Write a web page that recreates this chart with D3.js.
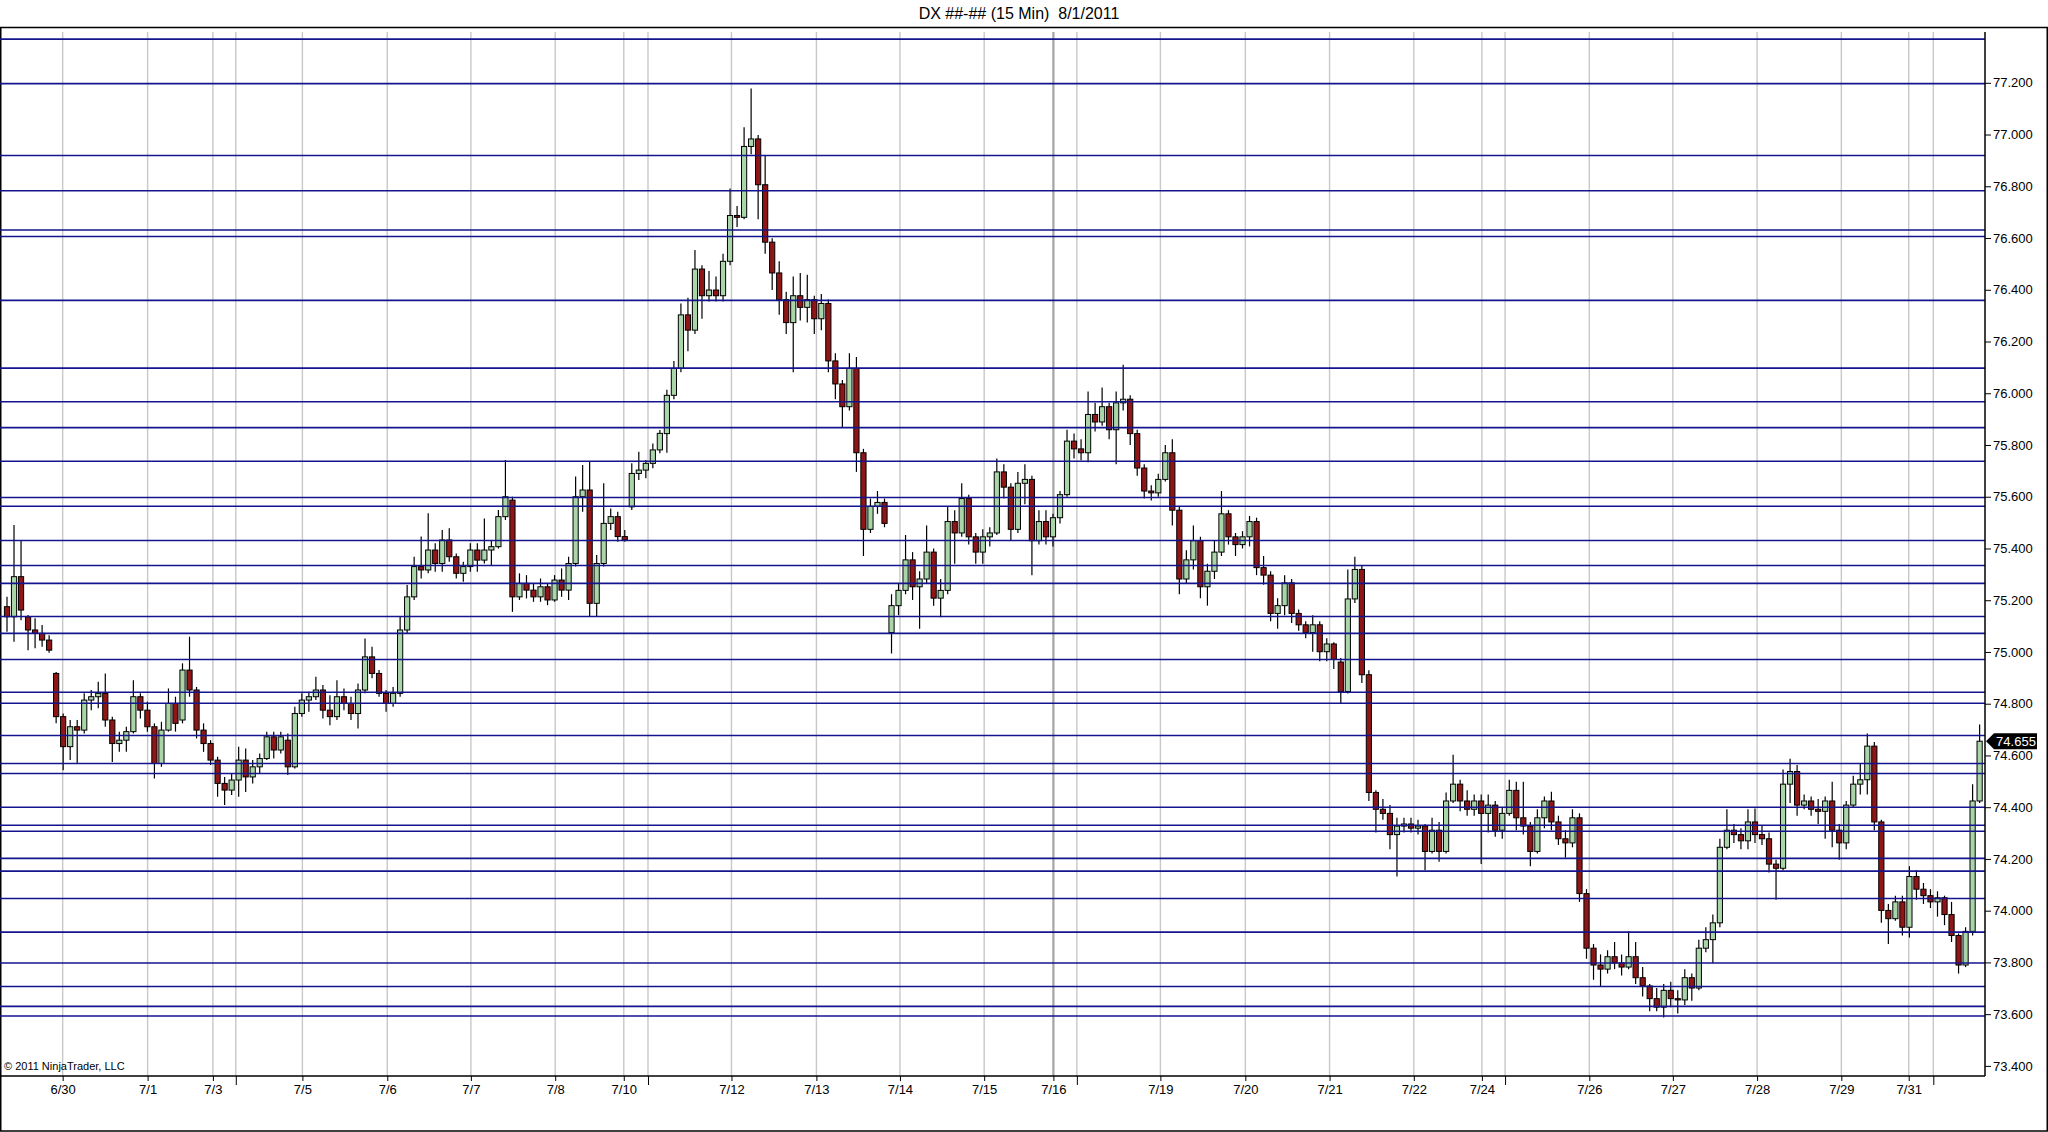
<!DOCTYPE html>
<html><head><meta charset="utf-8">
<script src="https://cdn.jsdelivr.net/npm/d3@7/dist/d3.min.js"></script>
<style>
html,body{margin:0;padding:0;background:#fff;}
svg{display:block;}
text{font-family:Arial,"Liberation Sans",Helvetica,sans-serif;}
</style>
</head><body>
<svg id="chart" width="2048" height="1132"></svg>
<script>
// ---- DATA (2-hour candles) ----
const opens = [
75.175,75.136,75.291,75.136,75.085,75.072,75.046,74.917,74.750,74.634,
74.711,74.698,74.814,74.827,74.840,74.737,74.646,74.659,74.692,74.827,
74.775,74.711,74.569,74.698,74.801,74.737,74.930,74.853,74.698,74.646,
74.582,74.492,74.466,74.505,74.582,74.517,74.556,74.588,74.672,74.621,
74.659,74.556,74.762,74.814,74.827,74.853,74.775,74.750,74.827,74.801,
74.762,74.853,74.981,74.917,74.840,74.801,74.840,75.085,75.213,75.330,
75.317,75.394,75.342,75.433,75.368,75.304,75.330,75.394,75.355,75.394,
75.407,75.523,75.587,75.213,75.265,75.239,75.213,75.252,75.201,75.278,
75.239,75.342,75.600,75.626,75.188,75.342,75.497,75.523,75.446,75.561,
75.690,75.703,75.729,75.781,75.844,75.992,76.096,76.303,76.244,76.480,
76.377,76.399,76.377,76.510,76.687,76.680,76.954,76.983,76.806,76.584,
76.465,76.362,76.273,76.377,76.332,76.362,76.288,76.347,76.125,76.036,
75.948,76.096,75.770,75.474,75.563,75.578,75.075,75.179,75.238,75.356,
75.252,75.282,75.386,75.208,75.238,75.504,75.460,75.593,75.445,75.386,
75.445,75.460,75.696,75.637,75.474,75.652,75.667,75.430,75.504,75.445,
75.519,75.608,75.815,75.785,75.770,75.918,75.889,75.948,75.859,75.963,
75.977,75.844,75.711,75.622,75.615,75.667,75.770,75.548,75.282,75.356,
75.430,75.252,75.312,75.386,75.534,75.445,75.415,75.445,75.504,75.326,
75.297,75.149,75.179,75.267,75.149,75.105,75.075,75.105,75.001,75.031,
74.961,74.847,75.205,75.319,74.912,74.457,74.392,74.376,74.294,74.327,
74.335,74.319,74.327,74.229,74.311,74.229,74.424,74.489,74.424,74.392,
74.424,74.376,74.408,74.311,74.376,74.465,74.359,74.327,74.229,74.359,
74.424,74.343,74.278,74.262,74.359,74.066,73.855,73.790,73.774,73.822,
73.798,73.782,73.822,73.741,73.709,73.660,73.627,73.692,73.660,73.655,
73.741,73.701,73.855,73.888,73.953,74.245,74.311,74.294,74.270,74.343,
74.294,74.278,74.180,74.164,74.489,74.538,74.408,74.424,74.392,74.384,
74.424,74.311,74.262,74.408,74.489,74.506,74.636,74.343,74.001,73.969,
74.034,73.936,74.132,74.083,74.058,74.034,74.050,73.985,73.904,73.790,
73.920,74.424];
const highs = [
75.213,75.491,75.433,75.143,75.130,75.104,75.065,74.923,74.762,74.737,
74.737,74.840,74.853,74.885,74.917,74.750,74.692,74.711,74.891,74.840,
74.808,74.724,74.730,74.859,74.827,74.956,75.059,74.865,74.724,74.659,
74.595,74.517,74.530,74.634,74.627,74.582,74.608,74.692,74.692,74.692,
74.685,74.788,74.840,74.846,74.904,74.872,74.833,74.891,74.859,74.827,
74.878,75.052,75.020,74.930,74.853,74.865,75.136,75.259,75.368,75.446,
75.536,75.420,75.471,75.478,75.381,75.349,75.420,75.420,75.516,75.433,
75.549,75.742,75.600,75.304,75.297,75.265,75.284,75.265,75.297,75.323,
75.368,75.678,75.723,75.736,75.375,75.652,75.555,75.542,75.471,75.729,
75.774,75.742,75.806,75.858,76.014,76.125,76.347,76.369,76.554,76.495,
76.473,76.451,76.539,76.791,76.724,77.028,77.178,76.998,76.917,76.599,
76.510,76.392,76.451,76.465,76.458,76.377,76.384,76.362,76.155,76.051,
76.155,76.140,75.785,75.593,75.622,75.593,75.223,75.267,75.452,75.386,
75.312,75.489,75.400,75.282,75.563,75.548,75.652,75.608,75.460,75.474,
75.482,75.748,75.726,75.652,75.696,75.726,75.681,75.548,75.548,75.534,
75.622,75.859,75.844,75.822,76.007,75.963,76.022,75.963,76.007,76.110,
75.992,75.859,75.726,75.644,75.689,75.800,75.822,75.563,75.393,75.489,
75.445,75.341,75.430,75.622,75.548,75.460,75.467,75.526,75.519,75.371,
75.312,75.208,75.297,75.282,75.164,75.119,75.142,75.119,75.053,75.038,
74.977,75.319,75.368,75.335,74.929,74.465,74.432,74.408,74.359,74.359,
74.359,74.351,74.335,74.359,74.343,74.457,74.603,74.506,74.465,74.449,
74.449,74.449,74.424,74.400,74.506,74.498,74.498,74.343,74.392,74.441,
74.460,74.367,74.311,74.392,74.376,74.083,73.871,73.831,73.847,73.879,
73.831,73.920,73.879,73.782,73.717,73.701,73.717,73.725,73.692,73.774,
73.757,73.888,73.936,73.985,74.278,74.392,74.335,74.319,74.392,74.395,
74.327,74.302,74.197,74.546,74.587,74.563,74.449,74.441,74.432,74.441,
74.498,74.335,74.424,74.522,74.571,74.685,74.652,74.351,74.026,74.058,
74.058,74.172,74.156,74.107,74.083,74.075,74.058,74.034,73.912,73.936,
74.489,74.720];
const lows = [
75.078,75.039,75.123,75.007,75.014,75.020,74.997,74.724,74.543,74.582,
74.569,74.685,74.775,74.782,74.711,74.575,74.614,74.614,74.685,74.743,
74.692,74.511,74.556,74.692,74.692,74.724,74.827,74.666,74.614,74.563,
74.440,74.408,74.447,74.440,74.459,74.492,74.530,74.582,74.588,74.608,
74.524,74.550,74.750,74.769,74.814,74.743,74.717,74.737,74.775,74.737,
74.704,74.840,74.898,74.827,74.769,74.788,74.827,75.072,75.201,75.284,
75.304,75.310,75.310,75.349,75.284,75.271,75.310,75.310,75.342,75.336,
75.400,75.510,75.155,75.201,75.207,75.194,75.194,75.181,75.194,75.213,
75.201,75.330,75.542,75.136,75.136,75.330,75.471,75.426,75.426,75.549,
75.665,75.671,75.710,75.768,75.770,75.977,76.081,76.162,76.229,76.288,
76.355,76.355,76.355,76.495,76.643,76.673,76.924,76.673,76.539,76.399,
76.303,76.229,76.081,76.281,76.273,76.229,76.244,76.081,75.977,75.866,
75.933,75.696,75.371,75.460,75.534,75.482,74.994,75.142,75.223,75.201,
75.090,75.267,75.179,75.134,75.223,75.341,75.445,75.415,75.341,75.341,
75.408,75.452,75.593,75.430,75.460,75.571,75.297,75.415,75.415,75.408,
75.497,75.600,75.748,75.741,75.733,75.852,75.874,75.822,75.726,75.933,
75.800,75.681,75.593,75.585,75.600,75.659,75.489,75.223,75.267,75.319,
75.208,75.179,75.282,75.371,75.415,75.371,75.400,75.408,75.297,75.260,
75.119,75.090,75.142,75.112,75.082,75.053,75.001,74.964,74.964,74.934,
74.799,74.839,75.189,74.880,74.424,74.302,74.351,74.237,74.132,74.302,
74.302,74.294,74.156,74.221,74.189,74.221,74.416,74.384,74.367,74.367,
74.180,74.302,74.286,74.278,74.367,74.311,74.294,74.172,74.221,74.319,
74.311,74.254,74.205,74.245,74.034,73.814,73.733,73.709,73.757,73.774,
73.749,73.774,73.717,73.668,73.611,73.611,73.587,73.627,73.603,73.635,
73.652,73.692,73.839,73.798,73.936,74.237,74.262,74.237,74.237,74.262,
74.254,74.148,74.042,74.156,74.416,74.367,74.392,74.367,74.335,74.278,
74.245,74.197,74.237,74.400,74.449,74.449,74.311,73.953,73.871,73.961,
73.904,73.896,74.042,74.026,74.010,73.977,73.944,73.879,73.757,73.782,
73.904,74.416];
const closes = [
75.136,75.291,75.162,75.085,75.072,75.046,75.007,74.750,74.634,74.711,
74.698,74.814,74.827,74.840,74.737,74.646,74.659,74.692,74.827,74.775,
74.711,74.569,74.698,74.801,74.724,74.930,74.853,74.698,74.646,74.582,
74.492,74.466,74.505,74.582,74.517,74.556,74.588,74.672,74.621,74.672,
74.556,74.762,74.814,74.827,74.853,74.775,74.750,74.827,74.801,74.762,
74.853,74.981,74.917,74.840,74.801,74.840,75.085,75.213,75.330,75.317,
75.394,75.342,75.433,75.368,75.304,75.330,75.394,75.355,75.394,75.407,
75.523,75.600,75.213,75.265,75.239,75.213,75.252,75.201,75.278,75.239,
75.342,75.600,75.626,75.188,75.342,75.497,75.523,75.446,75.433,75.690,
75.703,75.729,75.781,75.845,75.992,76.096,76.303,76.244,76.480,76.377,
76.399,76.377,76.510,76.687,76.680,76.954,76.983,76.806,76.584,76.465,
76.362,76.273,76.377,76.332,76.362,76.288,76.347,76.125,76.036,75.948,
76.096,75.770,75.474,75.563,75.578,75.497,75.179,75.238,75.356,75.252,
75.282,75.386,75.208,75.238,75.504,75.460,75.593,75.445,75.386,75.445,
75.460,75.696,75.637,75.474,75.652,75.667,75.430,75.504,75.445,75.519,
75.608,75.815,75.785,75.770,75.918,75.889,75.948,75.859,75.963,75.977,
75.844,75.711,75.622,75.615,75.667,75.770,75.548,75.282,75.356,75.430,
75.252,75.312,75.386,75.534,75.445,75.415,75.445,75.504,75.326,75.297,
75.149,75.179,75.267,75.149,75.105,75.075,75.105,75.001,75.031,74.971,
74.847,75.205,75.319,74.912,74.457,74.392,74.376,74.294,74.327,74.335,
74.319,74.327,74.229,74.311,74.229,74.424,74.489,74.424,74.392,74.424,
74.376,74.408,74.311,74.376,74.465,74.359,74.327,74.229,74.359,74.424,
74.343,74.278,74.262,74.359,74.066,73.855,73.790,73.774,73.822,73.798,
73.782,73.822,73.741,73.709,73.660,73.627,73.692,73.660,73.655,73.741,
73.701,73.855,73.888,73.953,74.245,74.311,74.294,74.270,74.343,74.294,
74.278,74.180,74.164,74.489,74.538,74.408,74.424,74.392,74.384,74.424,
74.311,74.262,74.408,74.489,74.506,74.636,74.343,74.001,73.969,74.034,
73.936,74.132,74.083,74.058,74.034,74.050,73.985,73.904,73.790,73.920,
74.424,74.655];

// day labels and their position (in candle-index units)
const dayLabels = ["6/30","7/1","7/3","7/5","7/6","7/7","7/8","7/10","7/12","7/13","7/14","7/15","7/16",
                   "7/19","7/20","7/21","7/22","7/24","7/26","7/27","7/28","7/29","7/31"];
const dayIndex  = [7.93,20.03,29.33,42.08,54.17,66.08,78.09,87.86,103.2,115.3,127.2,139.2,149.06,
                   164.3,176.4,188.4,200.4,210.1,225.4,237.3,249.3,261.3,270.9];
const weekBreakIndex = [32.59,91.31,152.4,213.4,274.4];

// horizontal drawn levels (price)
const drawnLevels = [77.369,77.197,76.919,76.783,76.631,76.606,76.359,76.097,75.967,75.867,
  75.737,75.597,75.563,75.431,75.334,75.265,75.137,75.072,74.971,74.844,74.802,74.677,
  74.569,74.530,74.400,74.330,74.307,74.202,74.153,74.047,73.917,73.798,73.707,73.630,73.593];

const yTickValues = [73.4,73.6,73.8,74.0,74.2,74.4,74.6,74.8,75.0,75.2,75.4,75.6,75.8,76.0,76.2,76.4,76.6,76.8,77.0,77.2];
const lastPrice = 74.655;
const titleText = "DX ##-## (15 Min)  8/1/2011";
const copyrightText = "\u00A9 2011 NinjaTrader, LLC";

// ---- DRAW ----
const svg = d3.select("#chart");
const plotL = 0, plotR = 1985, plotT = 32, plotB = 1076;

const x = d3.scaleLinear().domain([0, closes.length - 1]).range([7, 7 + 7.02 * (closes.length - 1)]);
const y = d3.scaleLinear().domain([73.4, 77.2]).range([1065.9, 82.8]);

// outer frame
svg.append("rect").attr("x", 0.75).attr("y", 27.5).attr("width", 2046.5).attr("height", 1103.5)
  .attr("fill", "#fff").attr("stroke", "#000").attr("stroke-width", 1.5);

// title
svg.append("text").attr("x", 1019).attr("y", 19).attr("text-anchor", "middle")
  .style("white-space", "pre").attr("font-size", 16).attr("fill", "#000").text(titleText);

// vertical day gridlines
const gridG = svg.append("g");
gridG.selectAll("line.day").data(dayIndex).join("line").attr("class", "day")
  .attr("x1", d => x(d)).attr("x2", d => x(d)).attr("y1", plotT).attr("y2", plotB)
  .attr("stroke", (d, i) => dayLabels[i] === "7/16" ? "#a4a4a4" : "#c8c8c8")
  .attr("stroke-width", (d, i) => dayLabels[i] === "7/16" ? 2.2 : 1.4);
gridG.selectAll("line.wk").data(weekBreakIndex).join("line").attr("class", "wk")
  .attr("x1", d => x(d)).attr("x2", d => x(d)).attr("y1", plotT).attr("y2", plotB)
  .attr("stroke", "#c8c8c8").attr("stroke-width", 1.4);

// candles
const bars = d3.range(closes.length).map(i => ({i, o: opens[i], h: highs[i], l: lows[i], c: closes[i]}));
const bodyW = 5.2;
const cg = svg.append("g");
cg.selectAll("line.wick").data(bars).join("line").attr("class", "wick")
  .attr("x1", d => x(d.i)).attr("x2", d => x(d.i))
  .attr("y1", d => y(d.h)).attr("y2", d => y(d.l))
  .attr("stroke", "#000").attr("stroke-width", 1.2);
cg.selectAll("rect.body").data(bars).join("rect").attr("class", "body")
  .attr("x", d => x(d.i) - bodyW / 2).attr("width", bodyW)
  .attr("y", d => y(Math.max(d.o, d.c)))
  .attr("height", d => Math.max(1, Math.abs(y(d.o) - y(d.c))))
  .attr("fill", d => d.c >= d.o ? "#a9d5a9" : "#8e1616")
  .attr("stroke", "#000").attr("stroke-width", 1);

// drawn horizontal levels
svg.append("g").selectAll("line").data(drawnLevels).join("line")
  .attr("x1", plotL).attr("x2", plotR).attr("y1", d => y(d)).attr("y2", d => y(d))
  .attr("stroke", "#14148f").attr("stroke-width", 1.6);

// axis lines
svg.append("line").attr("x1", plotR).attr("x2", plotR).attr("y1", plotT).attr("y2", plotB)
  .attr("stroke", "#000").attr("stroke-width", 1.5);
svg.append("line").attr("x1", 0).attr("x2", plotR).attr("y1", plotB).attr("y2", plotB)
  .attr("stroke", "#000").attr("stroke-width", 1.5);

// y axis (right)
const yAxis = d3.axisRight(y).tickValues(yTickValues).tickFormat(d3.format(".3f"))
  .tickSize(6).tickSizeOuter(0).tickPadding(2);
const yg = svg.append("g").attr("transform", `translate(${plotR},0)`).call(yAxis);
yg.select(".domain").remove();
yg.selectAll("text").attr("font-size", 13).attr("font-family", "Arial, 'Liberation Sans', sans-serif").attr("fill", "#000");
yg.selectAll("line").attr("stroke", "#000");

// x axis (bottom)
const xAxis = d3.axisBottom(x).tickValues(dayIndex).tickFormat((d, i) => dayLabels[i])
  .tickSize(5).tickSizeOuter(0).tickPadding(4);
const xg = svg.append("g").attr("transform", `translate(0,${plotB})`).call(xAxis);
xg.select(".domain").remove();
xg.selectAll("text").attr("font-size", 13).attr("font-family", "Arial, 'Liberation Sans', sans-serif").attr("fill", "#000");
xg.selectAll("line").attr("stroke", "#000");
const xAxisWk = d3.axisBottom(x).tickValues(weekBreakIndex).tickFormat("").tickSize(9).tickSizeOuter(0);
const xg2 = svg.append("g").attr("transform", `translate(0,${plotB})`).call(xAxisWk);
xg2.select(".domain").remove();
xg2.selectAll("line").attr("stroke", "#000");

// copyright
svg.append("text").attr("x", 4).attr("y", 1070).attr("font-size", 11).attr("fill", "#000").text(copyrightText);

// last price marker
const ym = y(lastPrice);
svg.append("path")
  .attr("d", `M${plotR + 1},${ym} L${plotR + 9},${ym - 8} L${plotR + 52},${ym - 8} L${plotR + 52},${ym + 8} L${plotR + 9},${ym + 8} Z`)
  .attr("fill", "#000");
svg.append("text").attr("x", plotR + 31).attr("y", ym + 4.6).attr("text-anchor", "middle")
  .attr("font-size", 13).attr("fill", "#fff").text(d3.format(".3f")(lastPrice));
</script>
</body></html>
